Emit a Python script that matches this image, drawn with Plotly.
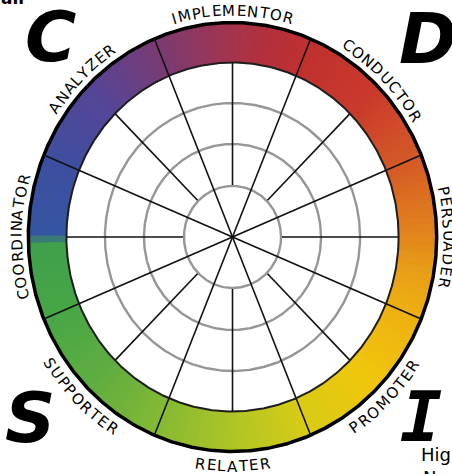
import numpy as np
import plotly.graph_objects as go

# ---------------- data ----------------
labels = ["PERSUADER", "CONDUCTOR", "IMPLEMENTOR", "ANALYZER",
          "COORDINATOR", "SUPPORTER", "RELATER", "PROMOTER"]
label_angles = [0, 45, 90, 135, 180, 225, 270, 315]          # degrees, CCW from east
label_outward = [True, True, True, True, True, False, False, False]

corner_letters = ["C", "D", "S", "I"]
fragment_texts = ["High", "Normal", "all"]

ring_inner = 174.5
ring_outer = 213.5
grid_radii = [51, 93, 134]
long_spoke_angles = [22.5, 67.5, 112.5, 157.5, 202.5, 247.5, 292.5, 337.5]
short_spoke_angles = [0, 45, 90, 135, 180, 225, 270, 315]
short_spoke_start = 52

# ring colour stops (angle deg, colour)
color_stops = [
    (0, "#e2871c"), (12, "#dc6f21"), (22.5, "#d45a26"), (45, "#c93a2c"),
    (67.5, "#c0302f"), (80, "#b3303c"), (90, "#a6344b"), (100, "#93375e"),
    (112.5, "#7b3b72"), (135, "#564597"), (157.5, "#3f4e9f"), (179, "#3555a3"),
    (183, "#40a04c"), (202.5, "#47a646"), (225, "#5fad41"), (247.5, "#84b934"),
    (270, "#aec526"), (292.5, "#d8cb16"), (315, "#f0c70c"), (337.5, "#eeb012"),
    (350, "#e99f17"), (360, "#e2871c"),
]

# ---------------- geometry / style ----------------
W, H = 452, 474
CX, CY = 232.5, 237.0
SX = 0.952          # horizontal squash of the wheel
FONT = "DejaVu Sans"


def hex2rgb(h):
    h = h.lstrip("#")
    return np.array([int(h[i:i + 2], 16) for i in (0, 2, 4)], float)


stop_a = np.array([s[0] for s in color_stops], float)
stop_c = np.array([hex2rgb(s[1]) for s in color_stops])


def ring_color(a):
    a = a % 360
    rgb = [np.interp(a, stop_a, stop_c[:, k]) for k in range(3)]
    return "rgb(%d,%d,%d)" % tuple(int(round(v)) for v in rgb)


def pol(r, deg):
    t = np.radians(deg)
    return r * np.cos(t), r * np.sin(t)


def px2data(px, py):
    return (px - CX) / SX, CY - py


fig = go.Figure()

# gradient ring
step = 2.0
for a0 in np.arange(0, 360, step):
    angs = np.linspace(a0 - 0.3, a0 + step + 0.3, 4)
    xo, yo = pol(ring_outer, angs)
    xi, yi = pol(ring_inner, angs[::-1])
    c = ring_color(a0 + step / 2)
    fig.add_trace(go.Scatter(
        x=np.r_[xo, xi, xo[:1]], y=np.r_[yo, yi, yo[:1]],
        mode="lines", fill="toself", fillcolor=c,
        line=dict(color=c, width=0.8), hoverinfo="skip"))

circ = np.linspace(0, 360, 721)

# grid circles
for r in grid_radii:
    x, y = pol(r, circ)
    fig.add_trace(go.Scatter(x=x, y=y, mode="lines",
                             line=dict(color="#969696", width=2.4), hoverinfo="skip"))

# ring edges
x, y = pol(ring_inner, circ)
fig.add_trace(go.Scatter(x=x, y=y, mode="lines",
                         line=dict(color="#1e1e1e", width=2), hoverinfo="skip"))
x, y = pol(ring_outer + 1, circ)
fig.add_trace(go.Scatter(x=x, y=y, mode="lines",
                         line=dict(color="#000000", width=3.5), hoverinfo="skip"))

# spokes
for a in short_spoke_angles:
    x, y = pol(np.array([short_spoke_start, ring_inner]), a)
    fig.add_trace(go.Scatter(x=x, y=y, mode="lines",
                             line=dict(color="#111111", width=1.6), hoverinfo="skip"))
for a in long_spoke_angles:
    x, y = pol(np.array([0, ring_outer + 1]), a)
    fig.add_trace(go.Scatter(x=x, y=y, mode="lines",
                             line=dict(color="#111111", width=1.6), hoverinfo="skip"))

# curved labels, letter by letter
cw = {"A": .684, "C": .698, "D": .770, "E": .632, "I": .295, "L": .557, "M": .863,
      "N": .748, "O": .787, "P": .603, "R": .695, "S": .635, "T": .611, "U": .732,
      "Y": .611, "Z": .685, "G": .772}
FS = 15
SPACING = 1.3

# pixel arc-length table along the squashed circle of unit radius
tt = np.linspace(-720, 720, 28801)
dx = -np.sin(np.radians(tt)) * SX
dy = np.cos(np.radians(tt))
ds = np.sqrt(dx ** 2 + dy ** 2) * np.radians(tt[1] - tt[0])
arc = np.r_[0, np.cumsum(ds[:-1])]

annotations = []
for text, ang, outward in zip(labels, label_angles, label_outward):
    r_t = 226.5 if outward else 229.5
    adv = np.array([cw[ch] * FS + SPACING for ch in text])
    L = adv.sum()
    centers = np.cumsum(adv) - adv / 2 - L / 2      # px along reading direction
    s0 = np.interp(ang, tt, arc) * r_t
    for ch, off in zip(text, centers):
        s = s0 - off if outward else s0 + off
        th = np.interp(s / r_t, arc, tt)
        x, y = pol(r_t, th)
        t = np.radians(th)
        phi = np.degrees(np.arctan2(np.sin(t), np.cos(t) / SX))
        rot = 90 - phi if outward else -(phi + 90)
        annotations.append(dict(x=x, y=y, xref="x", yref="y", text=ch, showarrow=False,
                                textangle=rot, xanchor="center", yanchor="middle",
                                font=dict(family=FONT, size=FS, color="black")))

# big corner letters
corner_pos = [(50, 37), (428, 39), (30, 418), (421, 417)]
for ch, (px, py) in zip(corner_letters, corner_pos):
    fam = "DejaVu Sans Mono" if ch == "I" else FONT
    annotations.append(dict(x=px / W, y=1 - py / H, xref="paper", yref="paper", text=ch,
                            showarrow=False, xanchor="center", yanchor="middle",
                            font=dict(family=fam, size=70, color="black",
                                      weight="bold", style="italic")))

# page fragments around the picture (partly cut by the page edge)
fx, fy = px2data(421, 456)
fig.add_trace(go.Scatter(x=[fx], y=[fy], mode="text", text=[fragment_texts[0]],
                         textposition="middle right", hoverinfo="skip", cliponaxis=False,
                         textfont=dict(family=FONT, size=18, color="black")))
annotations.append(dict(x=421 / W, y=1 - 465 / H, xref="paper", yref="paper",
                        text=fragment_texts[1], showarrow=False, xanchor="left",
                        yanchor="top", font=dict(family=FONT, size=18, color="black")))
annotations.append(dict(x=-1 / W, y=1 - 10 / H, xref="paper", yref="paper",
                        text="<b>" + fragment_texts[2] + "</b>", showarrow=False,
                        xanchor="left", yanchor="bottom",
                        font=dict(family=FONT, size=17, color="black")))

fig.update_layout(
    width=W, height=H, margin=dict(l=0, r=0, t=0, b=0),
    paper_bgcolor="white", plot_bgcolor="white", showlegend=False,
    annotations=annotations,
    xaxis=dict(range=[-CX / SX, (W - CX) / SX], visible=False, fixedrange=True),
    yaxis=dict(range=[-(H - CY), CY], visible=False, fixedrange=True),
)

fig.write_html("out.html", config={"displayModeBar": False},
               post_script="document.body.style.margin='0';")
